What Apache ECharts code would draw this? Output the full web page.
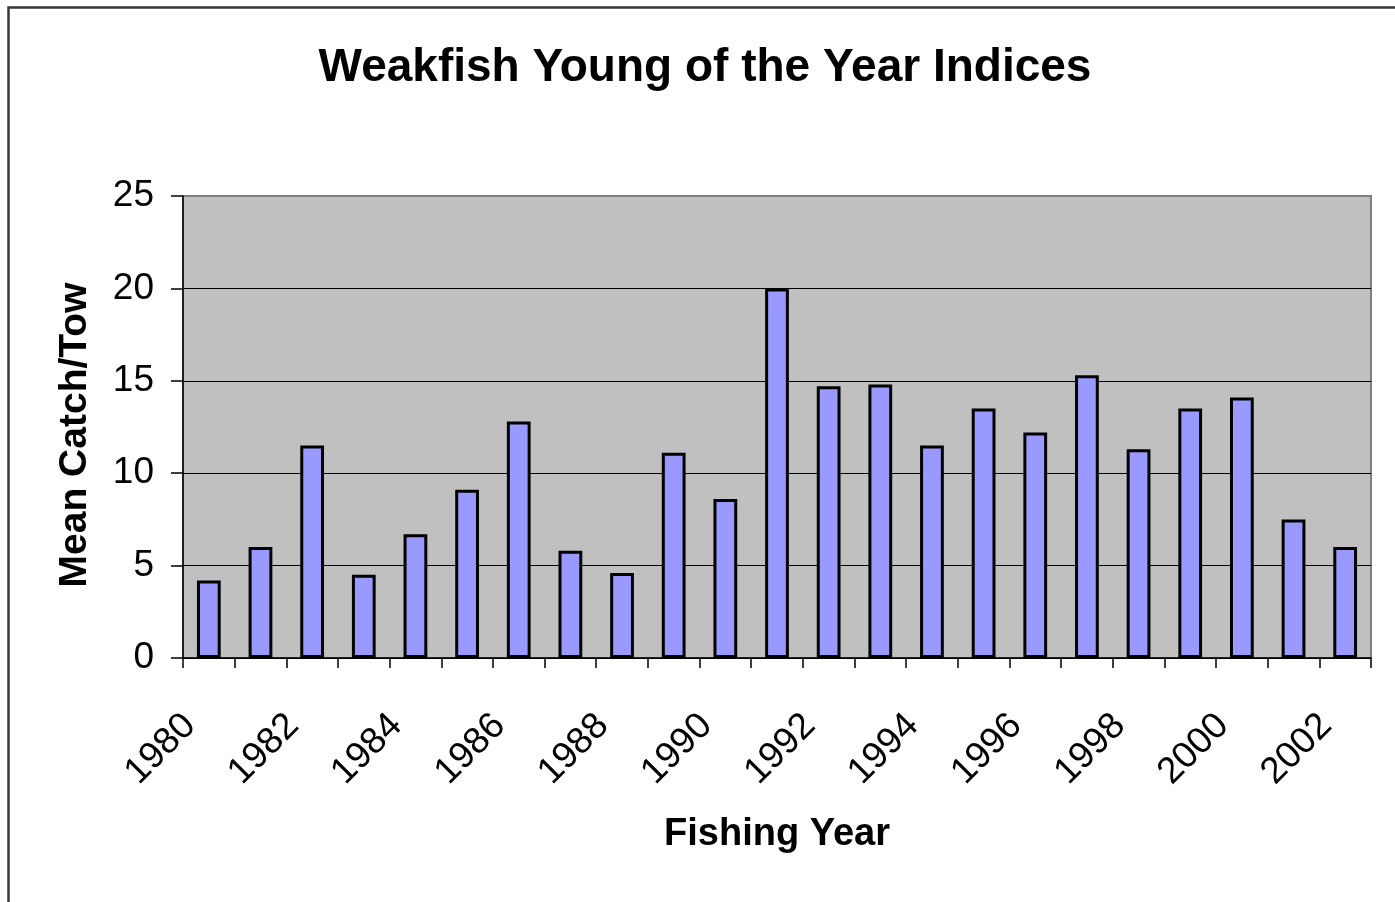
<!DOCTYPE html>
<html>
<head>
<meta charset="utf-8">
<script src="https://cdn.jsdelivr.net/npm/echarts@6/dist/echarts.min.js"></script>
<style>
  html, body { margin: 0; padding: 0; background: #fff; }
  #chart { width: 1395px; height: 902px; }
</style>
</head>
<body>
<div id="chart"></div>
<script>
// Fishing years and the mean catch per tow for each
const years = ['1980','1981','1982','1983','1984','1985','1986','1987','1988','1989','1990','1991',
               '1992','1993','1994','1995','1996','1997','1998','1999','2000','2001','2002'];
const meanCatch = [4.2, 6.0, 11.5, 4.5, 6.7, 9.1, 12.8, 5.8, 4.6, 11.1, 8.6, 20.0,
                   14.7, 14.8, 11.5, 13.5, 12.2, 15.3, 11.3, 13.5, 14.1, 7.5, 6.0];
const yTicks = [0, 5, 10, 15, 20, 25];

const FONT = '"Liberation Sans", Arial, sans-serif';
const chart = echarts.init(document.getElementById('chart'), null, { renderer: 'canvas' });

chart.setOption({
  backgroundColor: '#ffffff',
  animation: false,
  graphic: [{
    type: 'rect',
    left: 6, top: 5,
    shape: { width: 1500, height: 1000 },
    style: { fill: 'none', stroke: '#383838', lineWidth: 2.5 },
    silent: true
  }],
  title: {
    text: 'Weakfish Young of the Year Indices',
    left: 700, top: 40, textAlign: 'center',
    textStyle: { fontFamily: FONT, fontSize: 46, fontWeight: 'bold', color: '#000' }
  },
  grid: {
    left: 183, right: 24, top: 196, bottom: 244,
    show: true, backgroundColor: '#c0c0c0', borderColor: '#808080', borderWidth: 2
  },
  xAxis: {
    type: 'category',
    data: years,
    name: 'Fishing Year',
    nameLocation: 'middle',
    nameGap: 158,
    nameTextStyle: { fontFamily: FONT, fontSize: 38, fontWeight: 'bold', color: '#000' },
    axisLine: { lineStyle: { color: '#000', width: 1.5 } },
    axisTick: { show: true, interval: 0, length: 10, lineStyle: { color: '#000', width: 1.5 } },
    axisLabel: {
      interval: 1, rotate: 45, margin: 43,
      padding: [0, 27, 0, 0],
      fontFamily: FONT, fontSize: 37, color: '#000'
    },
    splitLine: { show: false }
  },
  yAxis: {
    type: 'value',
    min: 0, max: 25, interval: 5,
    name: 'Mean Catch/Tow',
    nameLocation: 'middle',
    nameGap: 88,
    nameRotate: 90,
    nameTextStyle: {
      fontFamily: FONT, fontSize: 39, fontWeight: 'bold', color: '#000',
      padding: [0, 16, 0, 0]
    },
    axisLine: { show: true, lineStyle: { color: '#000', width: 1.5 } },
    axisTick: { show: true, length: 12, lineStyle: { color: '#000', width: 1.5 } },
    axisLabel: {
      margin: 29, fontFamily: FONT, fontSize: 37, color: '#000',
      formatter: v => yTicks.includes(v) ? String(v) : ''
    },
    splitLine: { show: true, lineStyle: { color: ['#000','#000','#000','#000','#000','#808080'], width: 1 } }
  },
  series: [{
    type: 'bar',
    data: meanCatch,
    barCategoryGap: '54%',
    itemStyle: { color: '#9999ff', borderColor: '#000', borderWidth: 3 }
  }]
});
</script>
</body>
</html>
